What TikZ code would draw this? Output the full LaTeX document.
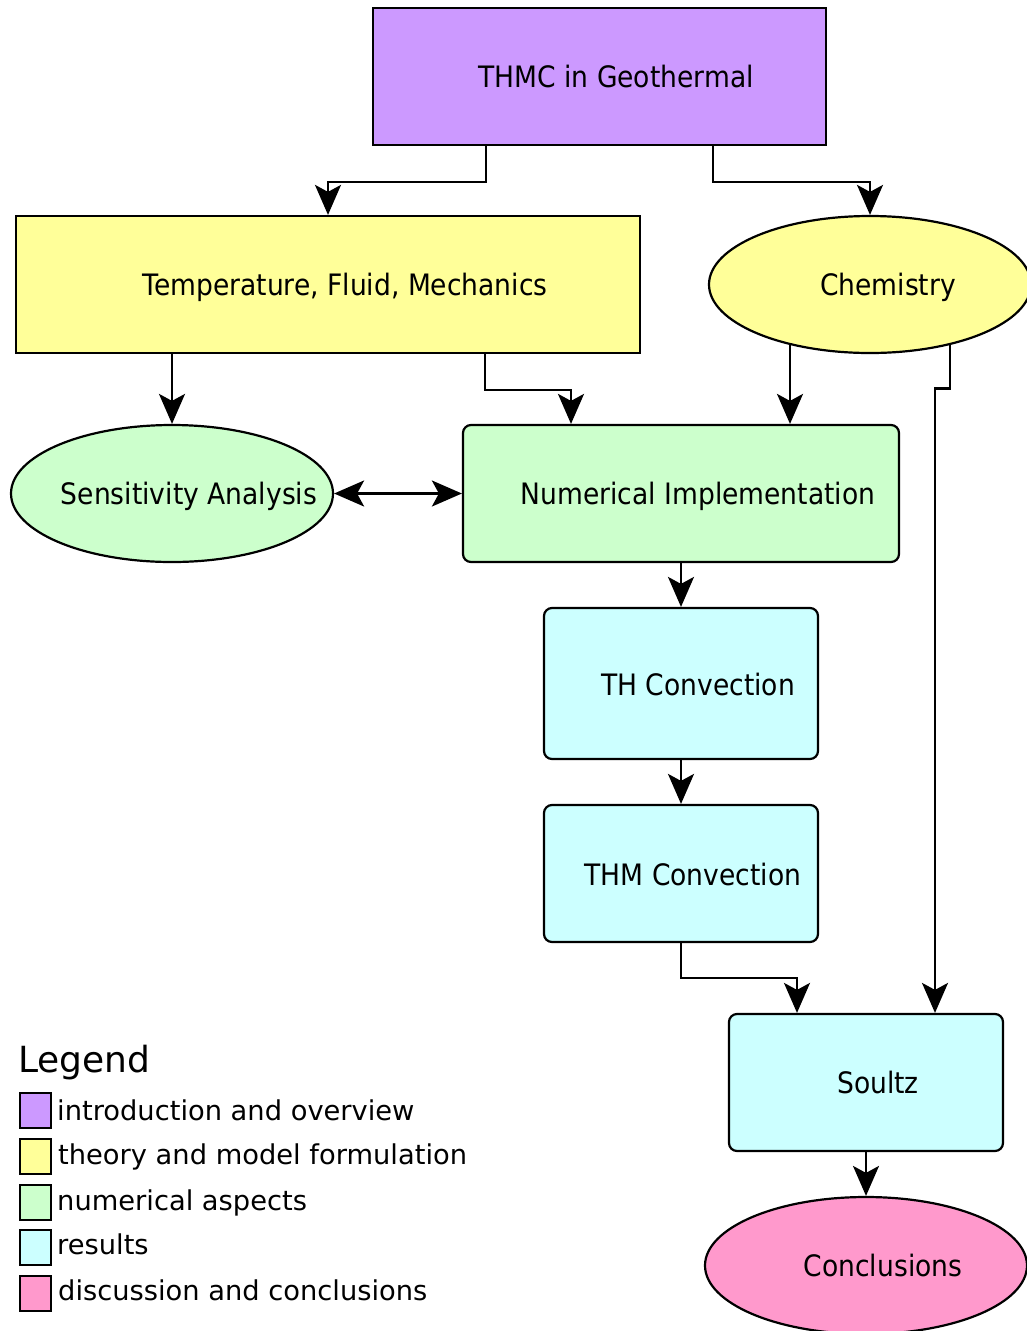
\documentclass[tikz,border=0pt]{standalone}
\usepackage{fontspec}
\setmainfont{DejaVu Sans}
\newfontfamily\nodefont{DejaVu Sans}[FakeStretch=0.9]
\usetikzlibrary{shapes.geometric,arrows.meta,calc}
\definecolor{cpurple}{HTML}{CC99FF}
\definecolor{cyellow}{HTML}{FFFF99}
\definecolor{cgreen}{HTML}{CCFFCC}
\definecolor{ccyan}{HTML}{CCFFFF}
\definecolor{cpink}{HTML}{FF99CC}
\tikzset{
  box/.style={draw=black, line width=2.2pt, rectangle, inner sep=0pt, minimum width=#1},
  rbox/.style={box=#1, rounded corners=8pt},
  ell/.style={draw=black, line width=2.2pt, ellipse, inner sep=0pt, minimum width=322pt, minimum height=137pt},
  txt/.style={font=\nodefont\fontsize{29.5}{35}\selectfont, text=black},
  tip/.tip={Stealth[length=30pt,width=26pt,inset=7pt]},
  arr/.style={line width=2.2pt, -tip},
  darr/.style={line width=2.2pt, tip-tip},
  swatch/.style={draw=black, line width=1.6pt, rectangle, minimum width=31pt, minimum height=35pt, inner sep=0pt, anchor=north west},
  legtxt/.style={font=\fontsize{27.3}{32}\selectfont, anchor=base west, inner sep=0pt}
}
\begin{document}
\begin{tikzpicture}[x=1pt,y=-1pt]
\useasboundingbox (0,0) rectangle (1026,1331);
% nodes
\node[box=453pt, minimum height=137pt, fill=cpurple,
  label={[txt, xshift=16.5pt]center:THMC in Geothermal}] (thmc) at (599.5,76.5) {};
\node[box=624pt, minimum height=137pt, fill=cyellow,
  label={[txt, xshift=17pt, yshift=-3pt]center:Temperature, Fluid, Mechanics}] (temp) at (328,284.5) {};
\node[ell, fill=cyellow,
  label={[txt, xshift=18pt, yshift=-3pt]center:Chemistry}] (chem) at (870,284.5) {};
\node[ell, fill=cgreen,
  label={[txt, xshift=17pt, yshift=-2.5pt]center:Sensitivity Analysis}] (sens) at (172,493.5) {};
\node[rbox=436pt, minimum height=137pt, fill=cgreen,
  label={[txt, xshift=17pt, yshift=-2.5pt]center:Numerical Implementation}] (num) at (681,493.5) {};
\node[rbox=274pt, minimum height=151pt, fill=ccyan,
  label={[txt, xshift=17pt, yshift=-1pt]center:TH Convection}] (th) at (681,683.5) {};
\node[rbox=274pt, minimum height=137pt, fill=ccyan,
  label={[txt, xshift=12pt, yshift=-1pt]center:THM Convection}] (thm) at (681,873.5) {};
\node[rbox=274pt, minimum height=137pt, fill=ccyan,
  label={[txt, xshift=12pt]center:Soultz}] (soultz) at (866,1082.5) {};
\node[ell, fill=cpink,
  label={[txt, xshift=17pt]center:Conclusions}] (concl) at (866,1265.5) {};
% connectors
\draw[arr] ([xshift=-113.5pt]thmc.south) -- ++(0,36) -| (temp.north);
\draw[arr] ([xshift=113.5pt]thmc.south) -- ++(0,36) -| (chem.north);
\draw[arr] (temp.south -| sens.north) -- (sens.north);
\draw[arr] ([xshift=157pt]temp.south) -- ++(0,36) -| ([xshift=-110pt]num.north);
\draw[arr] ($(chem.center)+(-80,59)$) -- ([xshift=109pt]num.north);
\draw[arr] ($(chem.center)+(80,59)$) -- ++(0,45) -| ([xshift=69pt]soultz.north);
\draw[darr] (sens.east) -- (num.west);
\draw[arr] (num.south) -- (th.north);
\draw[arr] (th.south) -- (thm.north);
\draw[arr] (thm.south) -- ++(0,35) -| ([xshift=-69pt]soultz.north);
\draw[arr] (soultz.south) -- (concl.north);
% legend
\node[font=\fontsize{36}{42}\selectfont, anchor=base west, inner sep=0pt] (legtitle) at (18,1072) {Legend};
\node[swatch, fill=cpurple] (s1) at (19,1092) {};
\node[swatch, fill=cyellow] (s2) at (19,1138) {};
\node[swatch, fill=cgreen] (s3) at (19,1184) {};
\node[swatch, fill=ccyan] (s4) at (19,1229) {};
\node[swatch, fill=cpink] (s5) at (19,1275) {};
\node[legtxt] (l1) at (57,1120) {introduction and overview};
\node[legtxt] (l2) at (58,1164) {theory and model formulation};
\node[legtxt] (l3) at (57,1210) {numerical aspects};
\node[legtxt] (l4) at (57,1254) {results};
\node[legtxt] (l5) at (58,1300) {discussion and conclusions};
\end{tikzpicture}
\end{document}
